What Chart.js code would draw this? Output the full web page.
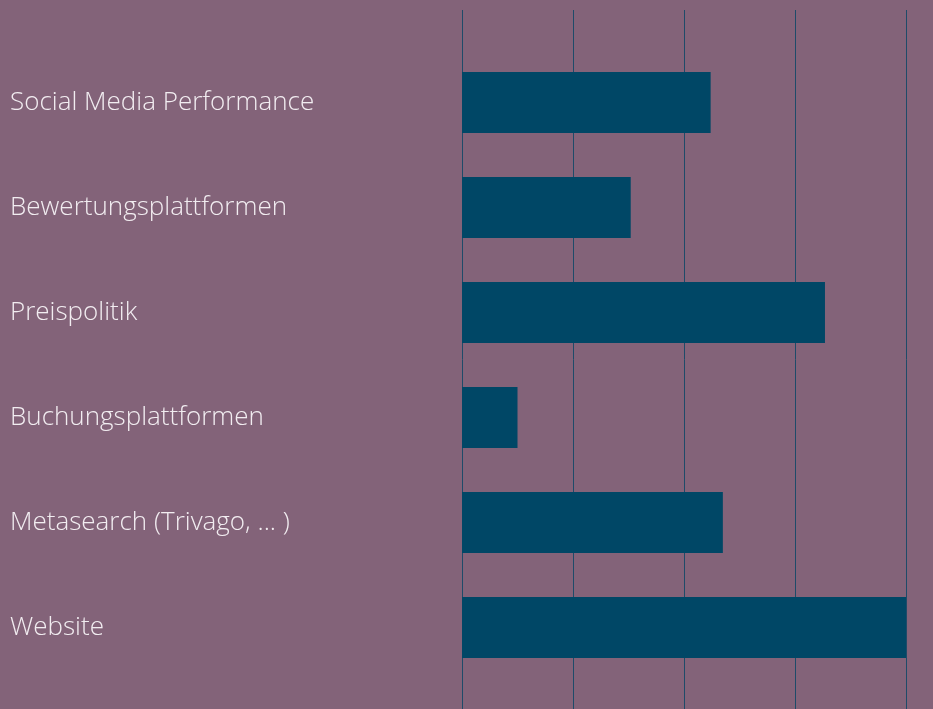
<!DOCTYPE html>
<html>
<head>
<meta charset="utf-8">
<script src="https://cdn.jsdelivr.net/npm/chart.js@4/dist/chart.umd.min.js"></script>
<style>
  html, body { margin: 0; padding: 0; background: #836379; }
  #wrap { width: 933px; height: 709px; position: relative; }
</style>
</head>
<body>
<div id="wrap"><canvas id="chart"></canvas></div>
<script>
// Daten
const categories = ['Social Media Performance', 'Bewertungsplattformen', 'Preispolitik',
    'Buchungsplattformen', 'Metasearch (Trivago, ... )', 'Website'];
const values = [2.24, 1.52, 3.27, 0.5, 2.35, 4.0];
const xTicks = [0, 1, 2, 3, 4];

// Gitterlinien über die ganze Höhe ziehen
const fullGrid = {
    id: 'fullGrid',
    beforeDatasetsDraw(chart) {
        const ctx = chart.ctx;
        const x = chart.scales.x;
        ctx.save();
        ctx.strokeStyle = '#1e4b69';
        ctx.lineWidth = 1;
        xTicks.forEach(v => {
            const px = Math.round(x.getPixelForValue(v)) + 0.5;
            ctx.beginPath();
            ctx.moveTo(px, 10);
            ctx.lineTo(px, chart.height);
            ctx.stroke();
        });
        ctx.restore();
    }
};

new Chart(document.getElementById('chart'), {
    type: 'bar',
    data: {
        labels: categories,
        datasets: [{
            data: values,
            backgroundColor: '#004766',
            barPercentage: 0.58,
            categoryPercentage: 1.0
        }]
    },
    options: {
        indexAxis: 'y',
        responsive: true,
        maintainAspectRatio: false,
        animation: false,
        layout: { padding: { left: 10, right: 27, top: 50, bottom: 21 } },
        plugins: { legend: { display: false }, tooltip: { enabled: false } },
        scales: {
            x: {
                min: 0,
                max: 4,
                afterBuildTicks: s => { s.ticks = xTicks.map(v => ({ value: v })); },
                ticks: { display: false },
                grid: { display: false },
                border: { display: false }
            },
            y: {
                afterFit: s => { s.width = 452; },
                ticks: {
                    crossAlign: 'far',
                    color: '#f2edf1',
                    font: { family: 'Open Sans', size: 26, weight: 300 }
                },
                grid: { display: false },
                border: { display: false }
            }
        }
    },
    plugins: [fullGrid]
});
</script>
</body>
</html>
